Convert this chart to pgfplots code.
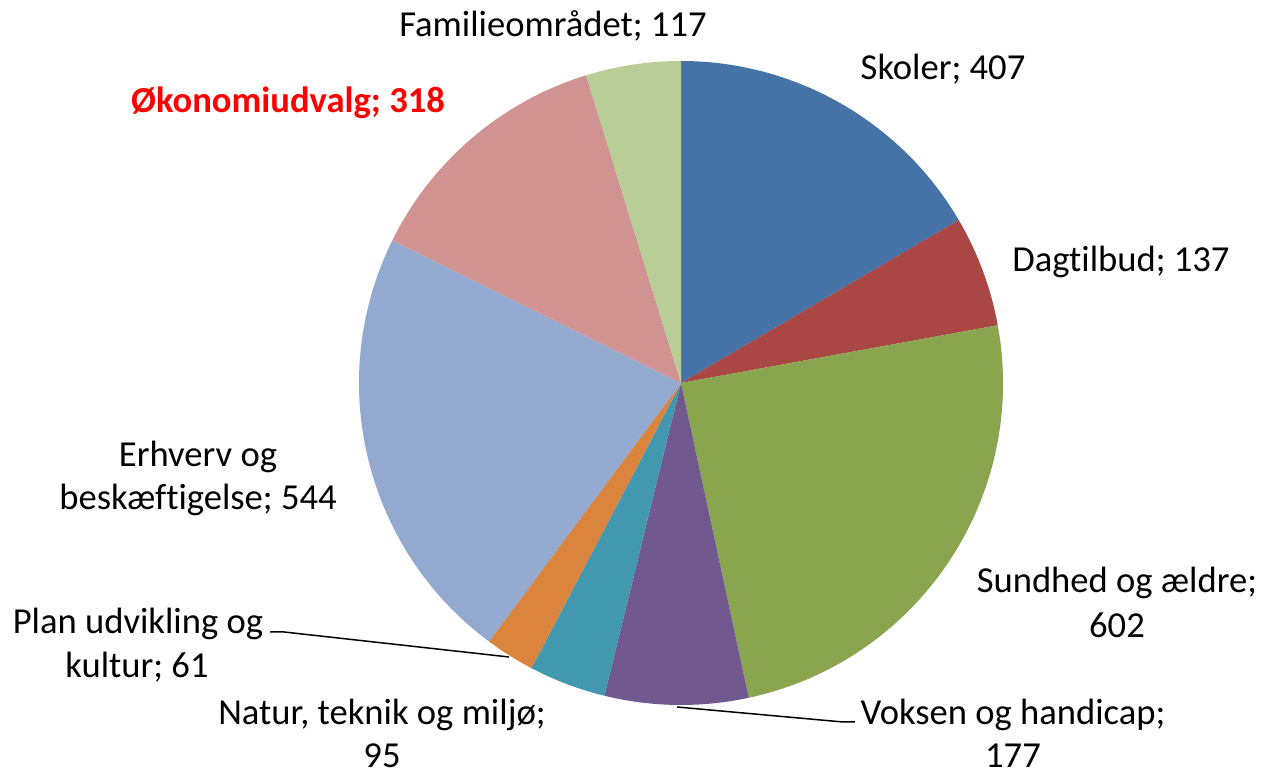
\documentclass[border=0pt]{standalone}
\usepackage{fontspec}
\setmainfont[Ligatures=NoCommon]{Carlito}
\usepackage{pgfplots}
\usepackage{pgfplotstable}
\pgfplotsset{compat=1.18}
\definecolor{cA}{HTML}{4572A7}
\definecolor{cB}{HTML}{AA4643}
\definecolor{cC}{HTML}{89A54E}
\definecolor{cD}{HTML}{71588F}
\definecolor{cE}{HTML}{4198AF}
\definecolor{cF}{HTML}{DB843D}
\definecolor{cG}{HTML}{93A9CF}
\definecolor{cH}{HTML}{D19392}
\definecolor{cI}{HTML}{B9CD96}
\pgfplotstableread[col sep=comma]{
label,value,color
Skoler,407,cA
Dagtilbud,137,cB
Sundhed og aeldre,602,cC
Voksen og handicap,177,cD
Natur teknik og miljoe,95,cE
Plan udvikling og kultur,61,cF
Erhverv og beskaeftigelse,544,cG
Oekonomiudvalg,318,cH
Familieomraadet,117,cI
}\piedata
\newcommand\lbl{\fontsize{18.3}{22.4}\selectfont}
\begin{document}
\begin{tikzpicture}
\begin{axis}[hide axis, x=0.5pt, y=0.5pt, disabledatascaling,
  xmin=0, xmax=1264, ymin=0, ymax=775, clip=false, scale only axis]
\pgfplotstablegetrowsof{\piedata}
\pgfmathtruncatemacro\nrows{\pgfplotsretval-1}
\gdef\total{0}
\foreach \i in {0,...,\nrows}{%
  \pgfplotstablegetelem{\i}{value}\of\piedata
  \pgfmathsetmacro\tsum{\total+\pgfplotsretval}\xdef\total{\tsum}}
\gdef\cum{0}
\foreach \i in {0,...,\nrows}{%
  \pgfplotstablegetelem{\i}{value}\of\piedata \let\sv\pgfplotsretval
  \pgfplotstablegetelem{\i}{color}\of\piedata \let\sc\pgfplotsretval
  \pgfmathsetmacro\sa{90-\cum/\total*360}
  \pgfmathsetmacro\sb{90-(\cum+\sv)/\total*360}
  \edef\tmp{\noexpand\fill[\sc] (axis cs:681,392) -- ++(\sa:161pt) arc[start angle=\sa, end angle=\sb, radius=161pt] -- cycle;}
  \tmp
  \pgfmathsetmacro\nn{\cum+\sv}\xdef\cum{\nn}}
% leader lines
\draw[black, line width=0.75pt] (axis cs:270,143) -- (axis cs:284,143) -- (axis cs:509,118);
\draw[black, line width=0.75pt] (axis cs:677,68) -- (axis cs:843,53) -- (axis cs:855,53);
% labels
\node[anchor=base, font=\lbl] at (axis cs:553,738) {Familieområdet; 117};
\node[anchor=base, font=\lbl] at (axis cs:943,695) {Skoler; 407};
\node[anchor=base, font=\lbl] at (axis cs:1121,503) {Dagtilbud; 137};
\node[anchor=base, font=\lbl\bfseries, text=red] at (axis cs:288,662) {Økonomiudvalg; 318};
\node[anchor=base, font=\lbl] at (axis cs:1117,182) {Sundhed og ældre;};
\node[anchor=base, font=\lbl] at (axis cs:1117,137) {602};
\node[anchor=base, font=\lbl] at (axis cs:1013,50) {Voksen og handicap;};
\node[anchor=base, font=\lbl] at (axis cs:1013,7) {177};
\node[anchor=base, font=\lbl] at (axis cs:382,50) {Natur, teknik og miljø;};
\node[anchor=base, font=\lbl] at (axis cs:382,7) {95};
\node[anchor=base, font=\lbl] at (axis cs:138,141) {Plan udvikling og};
\node[anchor=base, font=\lbl] at (axis cs:137,97) {kultur; 61};
\node[anchor=base, font=\lbl] at (axis cs:198,308) {Erhverv og};
\node[anchor=base, font=\lbl] at (axis cs:198,265) {beskæftigelse; 544};
\end{axis}
\pgfresetboundingbox
\path (current axis.south west) rectangle (current axis.north east);
\end{tikzpicture}
\end{document}
